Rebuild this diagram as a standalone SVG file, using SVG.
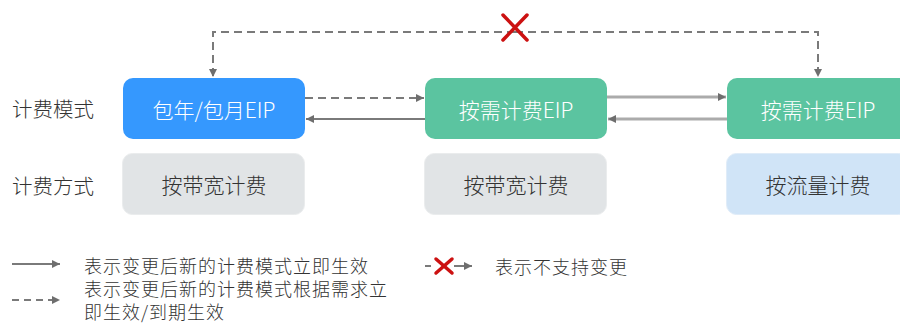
<svg xmlns="http://www.w3.org/2000/svg" width="900" height="323" viewBox="0 0 900 323">
<style>
text{font-family:"Noto Sans CJK SC","Liberation Sans",sans-serif;font-weight:300;}
.lbl{font-size:20.5px;fill:#333;}
.wt{font-size:21px;fill:#fff;text-anchor:middle;dominant-baseline:central;}
.dk{font-size:21px;fill:#333;text-anchor:middle;dominant-baseline:central;}
.lg{font-size:18px;fill:#333;dominant-baseline:central;letter-spacing:1px;}
.dash{fill:none;stroke:#7a7a7a;stroke-width:2;stroke-dasharray:8 5;}
.solid{fill:none;stroke:#7a7a7a;stroke-width:2;}
.light{fill:none;stroke:#ababab;stroke-width:3;}
.x{stroke:#cc1111;stroke-width:3.5;stroke-linecap:round;}
</style>
<defs>
<marker id="ah" markerWidth="10" markerHeight="10" refX="9" refY="5" orient="auto" markerUnits="userSpaceOnUse">
<path d="M1,1 L9,5 L1,9 Z" fill="#6e6e6e"/>
</marker>
</defs>
<g id="labels">
<text class="lbl" x="12" y="108" dominant-baseline="central">计费模式</text>
<text class="lbl" x="12" y="185" dominant-baseline="central">计费方式</text>
</g>
<g id="node-yearly">
<rect x="123" y="78" width="182" height="61" rx="10" fill="#3598fe"/>
<text class="wt" x="214" y="108.5">包年/包月EIP</text>
</g>
<g id="node-ondemand1">
<rect x="425" y="78" width="182" height="61" rx="10" fill="#5bc4a0"/>
<text class="wt" x="516" y="108.5">按需计费EIP</text>
</g>
<g id="node-ondemand2">
<rect x="727" y="78" width="182" height="61" rx="10" fill="#5bc4a0"/>
<text class="wt" x="818" y="108.5">按需计费EIP</text>
</g>
<g id="mode-bandwidth1">
<rect x="122.5" y="153.5" width="182" height="61" rx="10" fill="#e1e4e6" stroke="#eaeced"/>
<text class="dk" x="214" y="184">按带宽计费</text>
</g>
<g id="mode-bandwidth2">
<rect x="424.5" y="153.5" width="182" height="61" rx="10" fill="#e1e4e6" stroke="#eaeced"/>
<text class="dk" x="516" y="184">按带宽计费</text>
</g>
<g id="mode-traffic">
<rect x="726.5" y="153.5" width="182" height="61" rx="10" fill="#d0e4f7" stroke="#e0ecf8"/>
<text class="dk" x="818" y="184">按流量计费</text>
</g>
<g id="connectors">
<path class="dash" d="M515,32 H213 V77" marker-end="url(#ah)"/>
<path class="dash" d="M515,32 H818 V77" marker-end="url(#ah)"/>
<path class="dash" d="M305,98 H424" marker-end="url(#ah)"/>
<path class="solid" d="M425,119 H306" marker-end="url(#ah)"/>
<path class="light" d="M607,97 H726" marker-end="url(#ah)"/>
<path class="light" d="M727,119 H608" marker-end="url(#ah)"/>
<g id="cross">
<line class="x" x1="503" y1="15" x2="527" y2="40"/>
<line class="x" x1="527" y1="15" x2="503" y2="40"/>
</g>
</g>
<g id="legend">
<path class="solid" d="M12,264 H60" marker-end="url(#ah)"/>
<text class="lg" x="84" y="265">表示变更后新的计费模式立即生效</text>
<path class="dash" d="M12,300 H60" style="stroke-dasharray:7 5" marker-end="url(#ah)"/>
<text class="lg" x="84" y="288">表示变更后新的计费模式根据需求立</text>
<text class="lg" x="84" y="311">即生效/到期生效</text>
<path class="solid" d="M425,266 H431"/>
<path class="solid" d="M454,266 H472" marker-end="url(#ah)"/>
<line class="x" x1="436" y1="259" x2="452" y2="273"/>
<line class="x" x1="452" y1="259" x2="436" y2="273"/>
<text class="lg" x="495" y="266">表示不支持变更</text>
</g>
</svg>
